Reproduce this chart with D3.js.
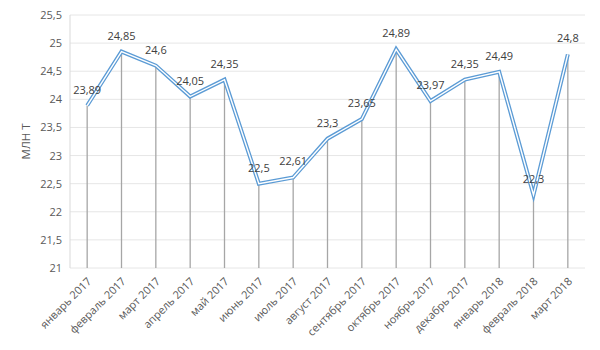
<!DOCTYPE html>
<html><head><meta charset="utf-8">
<script src="https://cdn.jsdelivr.net/npm/d3@7"></script>
<style>body{margin:0;background:#fff}text{font-family:"Open Sans","Noto Sans",sans-serif}</style>
</head><body><svg id="c" width="600" height="350"></svg>
<script>
const categories = ["январь 2017","февраль 2017","март 2017","апрель 2017","май 2017","июнь 2017","июль 2017","август 2017","сентябрь 2017","октябрь 2017","ноябрь 2017","декабрь 2017","январь 2018","февраль 2018","март 2018"];
const values = [23.89,24.85,24.6,24.05,24.35,22.5,22.61,23.3,23.65,24.89,23.97,24.35,24.49,22.3,24.8];
const labels = ["23,89","24,85","24,6","24,05","24,35","22,5","22,61","23,3","23,65","24,89","23,97","24,35","24,49","22,3","24,8"];
const yTicks = [21,21.5,22,22.5,23,23.5,24,24.5,25,25.5];
const yTitle = "МЛН Т";

const svg = d3.select("#c");
const L=70,R=585,T=15,B=268;
const x = d3.scalePoint().domain(categories).range([L,R]).padding(0.5);
const y = d3.scaleLinear().domain([21,25.5]).range([B,T]);
const fmt = d => String(d).replace(".",",");

svg.append("g").selectAll("line").data(yTicks).join("line")
  .attr("x1",L).attr("x2",R).attr("y1",d=>y(d)).attr("y2",d=>y(d))
  .attr("stroke","#e6e6e6").attr("stroke-width",1);
svg.append("line").attr("x1",L).attr("x2",L).attr("y1",T).attr("y2",B).attr("stroke","#d9d9d9");
svg.append("g").selectAll("text").data(yTicks).join("text")
  .attr("x",L-8).attr("y",d=>y(d)+4).attr("text-anchor","end")
  .attr("font-size",11).attr("fill","#595959").text(fmt);

svg.append("text").attr("transform",`translate(30,${(T+B)/2}) rotate(-90)`)
  .attr("text-anchor","middle").attr("font-size",11.5).attr("fill","#595959").text(yTitle);

svg.append("g").selectAll("line").data(values).join("line")
  .attr("x1",(d,i)=>x(categories[i])).attr("x2",(d,i)=>x(categories[i]))
  .attr("y1",d=>y(d)).attr("y2",B).attr("stroke","#a6a6a6").attr("stroke-width",1.3);

const line = d3.line().x((d,i)=>x(categories[i])).y(d=>y(d));
svg.append("path").datum(values).attr("d",line).attr("fill","none")
  .attr("stroke","#5b9bd5").attr("stroke-width",4).attr("stroke-linejoin","miter");
svg.append("path").datum(values).attr("d",line).attr("fill","none")
  .attr("stroke","#fff").attr("stroke-width",1.4).attr("stroke-linejoin","miter");

svg.append("g").selectAll("text").data(values).join("text")
  .attr("x",(d,i)=>x(categories[i])).attr("y",d=>y(d)-12)
  .attr("text-anchor","middle").attr("font-size",11).attr("fill","#404040")
  .text((d,i)=>labels[i]);

svg.append("g").selectAll("text").data(categories).join("text")
  .attr("transform",d=>`translate(${x(d)+5},${B+14}) rotate(-45)`)
  .attr("text-anchor","end").attr("font-size",11).attr("fill","#595959").text(d=>d);
</script></body></html>
